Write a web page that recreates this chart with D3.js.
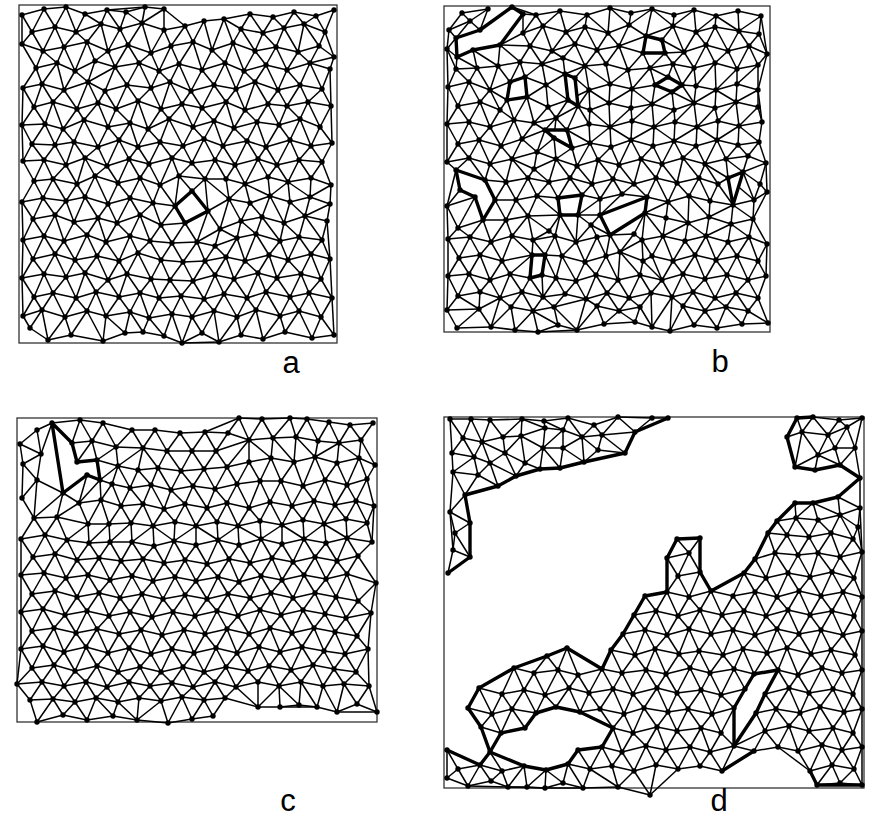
<!DOCTYPE html>
<html>
<head>
<meta charset="utf-8">
<script src="https://cdn.jsdelivr.net/npm/d3@7"></script>
<style>
  body { margin: 0; background: #fff; }
  svg { display: block; }
</style>
</head>
<body>
<div id="chart"></div>
<script>
// point positions, in pixels from the panel's top-left corner
var pointsA = [
  [3,10],[25,4],[47,2],[66,9],[88,5],[107,7],[126,2],[145,4],[231,9],[254,12],[275,7],[297,11],[315,5],
  [13,27],[36,22],[57,27],[82,19],[101,24],[123,18],[145,25],[166,21],[185,16],[205,14],[222,24],[244,28],[265,23],[285,19],[306,27],
  [3,39],[24,46],[45,42],[68,37],[89,46],[109,40],[132,48],[152,41],[174,37],[193,45],[214,38],[236,46],[257,42],[279,47],[300,41],[315,52],
  [17,63],[38,58],[56,66],[76,56],[96,62],[120,58],[140,66],[160,59],[183,65],[206,58],[225,66],[247,60],[268,65],[291,58],[311,64],
  [4,83],[23,79],[45,85],[69,77],[86,86],[108,80],[132,83],[151,77],[172,86],[195,80],[217,84],[236,77],[259,85],[281,80],[303,84],
  [15,102],[34,97],[58,104],[79,98],[97,104],[119,96],[142,104],[163,99],[183,103],[207,97],[226,105],[249,99],[268,101],[289,97],[312,101],
  [3,120],[26,119],[44,124],[65,115],[89,122],[111,118],[129,124],[150,114],[174,122],[195,116],[215,123],[238,117],[260,120],[281,114],[301,122],
  [13,139],[36,140],[55,137],[79,142],[100,135],[119,142],[141,137],[164,141],[185,134],[204,141],[228,136],[247,142],[271,135],[292,141],[313,138],
  [4,156],[25,155],[47,160],[66,153],[88,161],[110,154],[130,159],[153,153],[173,158],[196,155],[216,160],[239,154],[258,160],[280,155],[303,157],
  [15,176],[34,174],[58,179],[76,171],[99,178],[121,173],[141,180],[160,171],[186,174],[207,174],[226,179],[249,172],[269,177],[292,173],[312,180],
  [3,197],[24,193],[47,196],[66,192],[89,199],[111,193],[134,198],[210,194],[231,198],[251,191],[271,197],[291,192],[311,199],
  [14,214],[36,210],[55,217],[79,213],[98,218],[121,210],[142,220],[201,224],[222,216],[243,212],[265,218],[286,211],[308,216],
  [4,235],[25,231],[45,236],[68,230],[87,237],[111,231],[131,236],[153,238],[178,237],[196,241],[218,233],[237,229],[261,236],[280,232],[303,235],
  [14,254],[36,249],[56,255],[78,251],[100,256],[119,248],[142,255],[164,257],[186,256],[207,252],[226,256],[250,250],[269,255],[292,249],[311,254],
  [3,273],[25,269],[47,272],[66,268],[89,275],[108,269],[132,274],[151,275],[174,276],[196,270],[215,274],[239,268],[258,273],[282,269],[302,274],
  [15,292],[34,288],[57,293],[77,287],[100,292],[121,288],[140,293],[162,291],[185,294],[205,289],[228,293],[247,287],[271,292],[290,288],[313,293],
  [4,311],[23,305],[46,312],[68,306],[87,311],[111,307],[130,313],[153,309],[173,312],[195,306],[218,312],[237,305],[261,311],[280,306],[302,312],
  [11,323],[29,335],[52,330],[84,336],[106,328],[124,327],[145,331],[163,338],[183,328],[200,337],[222,330],[244,334],[266,327],[293,333],[315,330]
];
var holesA = [
  [[156,201],[173,186],[189,206],[166,218]]
];

var pointsB = [
  [18,7],[44,3],[92,9],[116,5],[143,9],[166,2],[187,7],[208,3],[230,9],[250,4],[272,10],[294,5],[317,10],
  [5,24],[26,15],[51,25],[79,27],[99,20],[122,26],[141,21],[164,27],[185,19],[229,20],[252,26],[271,21],[295,25],[315,28],
  [3,43],[86,40],[108,45],[131,38],[153,44],[175,40],[240,46],[262,39],[284,45],[305,40],[323,48],
  [12,63],[33,62],[54,60],[76,56],[98,58],[119,52],[141,60],[162,58],[184,64],[206,62],[229,58],[250,62],[271,57],[293,63],[314,59],
  [4,81],[25,76],[46,84],[102,79],[145,84],[166,78],[188,83],[252,80],[272,84],[293,78],[314,84],
  [14,100],[36,96],[56,104],[104,101],[146,104],[165,97],[187,102],[208,98],[230,104],[250,97],[271,102],[292,96],[314,101],
  [3,118],[25,116],[46,121],[70,114],[90,117],[112,112],[145,118],[166,121],[188,115],[210,121],[231,116],[253,121],[274,115],[295,120],[318,116],
  [14,138],[35,134],[57,140],[78,133],[93,146],[146,137],[167,141],[187,134],[209,140],[230,135],[252,140],[273,134],[294,139],[315,136],
  [3,156],[25,152],[46,158],[68,153],[90,163],[112,153],[133,160],[154,154],[175,159],[197,153],[218,158],[239,152],[261,158],[282,153],[304,150],[322,157],
  [62,176],[84,172],[105,176],[126,172],[148,178],[169,173],[190,178],[212,172],[233,177],[255,172],[274,178],[316,178],
  [3,200],[72,194],[93,190],[156,193],[178,188],[224,196],[245,190],[266,195],[310,194],[323,186],
  [14,222],[62,214],[84,210],[105,225],[147,219],[190,228],[222,212],[244,217],[265,211],[287,218],[309,213],
  [4,233],[26,231],[47,236],[68,230],[89,234],[111,230],[132,236],[153,231],[176,246],[198,234],[219,230],[241,235],[262,230],[284,236],[305,231],[323,238],
  [15,252],[36,249],[58,255],[118,250],[141,256],[162,250],[199,255],[208,250],[229,255],[251,249],[272,254],[293,250],[314,255],
  [4,270],[25,268],[46,274],[66,268],[112,272],[132,275],[152,269],[174,274],[196,269],[218,274],[239,268],[261,273],[283,269],[304,274],[322,270],
  [14,290],[36,286],[56,292],[78,286],[99,291],[121,288],[142,293],[163,287],[185,292],[207,287],[228,291],[249,286],[271,292],[292,287],[314,292],
  [3,304],[35,303],[67,301],[89,305],[110,301],[153,300],[175,305],[196,301],[239,300],[261,305],[282,301],[304,305],
  [13,322],[47,321],[71,324],[94,326],[114,319],[133,324],[160,318],[191,316],[208,321],[226,325],[250,319],[273,322],[298,318],[324,317]
];
var holesB = [
  [[12,32],[36,24],[68,1],[79,8],[56,39],[29,44],[13,51]],
  [[202,30],[218,34],[221,47],[199,47]],
  [[211,79],[224,71],[238,79],[228,86]],
  [[81,71],[66,76],[63,94],[83,91]],
  [[121,68],[131,72],[134,100],[124,94]],
  [[101,124],[123,124],[128,142],[110,132]],
  [[12,164],[41,174],[51,194],[39,214],[31,191],[16,184]],
  [[114,192],[138,189],[134,209],[116,209]],
  [[156,209],[203,191],[201,207],[166,229]],
  [[88,249],[101,249],[98,269],[86,272]],
  [[284,172],[299,166],[289,199]]
];

var pointsC = [
  [63,2],[86,5],[115,12],[138,12],[163,15],[188,14],[211,15],[222,0],[245,1],[273,0],[290,1],[312,4],[333,7],[356,5],
  [3,26],[20,12],[75,23],[99,29],[126,30],[150,33],[175,33],[199,33],[232,22],[256,20],[279,19],[301,23],[322,25],[344,22],
  [6,46],[24,36],[101,48],[121,52],[141,50],[164,53],[187,51],[210,49],[232,44],[254,40],[277,44],[298,39],[320,45],[342,40],[358,47],
  [20,62],[95,66],[113,70],[134,67],[154,72],[176,68],[198,71],[220,66],[243,63],[264,63],[286,68],[308,62],[330,67],[350,61],
  [5,80],[62,85],[84,82],[104,88],[126,86],[147,91],[168,86],[190,90],[210,85],[232,90],[253,84],[275,88],[297,83],[318,87],[339,83],[357,88],
  [17,100],[40,99],[71,106],[92,106],[114,105],[136,108],[158,104],[179,108],[200,104],[221,108],[243,103],[265,107],[286,102],[307,106],[329,101],[350,105],
  [4,121],[28,117],[50,122],[72,125],[93,124],[115,124],[137,128],[157,123],[179,127],[201,122],[222,127],[244,121],[265,126],[287,121],[309,125],[330,120],[355,124],
  [16,139],[38,136],[60,142],[82,140],[104,143],[126,141],[147,145],[168,142],[190,146],[212,141],[233,145],[255,140],[276,144],[298,139],[320,143],[341,138],
  [4,157],[27,155],[49,160],[71,157],[93,162],[115,158],[136,163],[158,159],[179,163],[201,159],[222,164],[244,158],[265,162],[287,157],[309,161],[330,156],[359,165],
  [15,176],[38,173],[60,179],[82,175],[103,180],[125,176],[146,181],[168,177],[190,181],[211,176],[233,180],[254,175],[276,180],[298,175],[319,179],[341,183],
  [4,194],[26,191],[48,197],[70,193],[92,198],[113,194],[135,199],[156,194],[178,198],[200,193],[221,198],[243,192],[264,197],[286,192],[308,196],[329,200],[354,195],
  [15,213],[37,210],[59,215],[80,211],[102,216],[124,212],[145,217],[167,212],[188,216],[210,211],[232,216],[253,210],[275,215],[297,210],[318,214],[340,218],
  [4,231],[26,228],[47,234],[69,229],[91,235],[112,230],[134,236],[155,231],[177,235],[199,230],[220,235],[242,229],[263,234],[285,229],[307,233],[328,236],[351,231],
  [15,250],[37,247],[58,253],[80,248],[101,254],[123,249],[144,254],[166,249],[187,254],[209,249],[231,253],[252,248],[274,252],[296,247],[317,251],[339,254],
  [0,266],[25,264],[47,268],[69,264],[90,269],[112,264],[133,268],[155,265],[176,269],[198,264],[219,269],[241,264],[262,268],[284,264],[306,268],[327,266],[352,268],
  [13,282],[36,281],[58,284],[79,280],[101,284],[122,280],[144,283],[165,279],[187,282],[208,280],[241,289],[263,289],[282,287],[300,289],[320,294],[340,286],[360,294],
  [20,304],[46,297],[70,302],[96,298],[120,302],[151,305],[175,301],[196,298]
];
var holesC = [
  [[35,5],[55,25],[60,44],[80,42],[83,62],[70,57],[46,75]]
];

var pointsD = [
  [6,2],[27,2],[46,3],[78,2],[100,4],[124,1],[150,8],[174,0],[208,1],[224,1],[246,2],[268,1],[290,3],[312,1],[353,1],[369,0],[395,3],[418,1],
  [19,21],[38,25],[59,20],[77,19],[101,11],[119,13],[138,20],[158,18],[191,15],[231,20],[255,21],[278,22],[300,20],[322,19],[343,20],[358,15],[384,18],[403,10],
  [8,36],[30,40],[46,46],[61,36],[81,46],[99,31],[119,31],[154,33],[181,36],[216,40],[238,42],[262,38],[283,41],[305,40],[327,39],[374,38],[391,31],[411,31],
  [9,55],[34,58],[54,69],[72,59],[96,52],[116,51],[140,45],[160,60],[182,58],[204,60],[226,62],[247,58],[270,61],[291,59],[314,62],[351,50],[371,53],[396,48],[416,61],
  [21,78],[43,82],[66,77],[88,82],[110,79],[132,83],[154,78],[176,82],[198,79],[220,83],[242,78],[264,82],[286,79],[308,83],[330,78],[351,86],[369,86],[394,80],[416,91],
  [6,95],[26,106],[47,100],[69,104],[91,98],[113,103],[135,99],[157,104],[179,98],[201,103],[223,99],[245,104],[267,98],[289,103],[311,99],[333,104],[352,101],[374,103],[396,98],[414,110],
  [11,116],[36,120],[58,116],[80,121],[102,117],[124,122],[146,116],[168,121],[190,117],[212,122],[233,122],[256,121],[278,117],[300,122],[324,116],[343,118],[365,120],[387,116],[409,122],
  [9,133],[26,140],[47,137],[69,142],[91,136],[113,141],[135,137],[157,142],[179,136],[201,141],[223,141],[245,136],[267,141],[289,137],[311,142],[331,136],[354,138],[374,136],[396,140],[418,135],
  [4,156],[36,158],[58,162],[80,156],[102,161],[124,157],[146,162],[168,156],[190,161],[212,157],[234,159],[256,155],[278,160],[300,156],[322,161],[344,156],[366,160],[388,155],[410,161],
  [3,176],[25,179],[47,175],[69,180],[91,174],[113,179],[135,175],[157,180],[179,174],[201,179],[223,175],[245,180],[267,174],[289,179],[311,175],[333,180],[355,174],[377,179],[399,175],[418,180],
  [14,198],[36,194],[58,199],[80,193],[102,198],[124,194],[146,199],[168,193],[190,198],[212,194],[234,199],[256,193],[278,198],[300,194],[322,199],[344,193],[366,198],[388,194],[410,199],
  [3,216],[25,213],[47,218],[69,212],[91,217],[113,213],[135,218],[157,212],[179,217],[201,213],[223,218],[245,212],[267,217],[289,213],[311,218],[333,212],[355,217],[377,213],[399,218],[418,214],
  [14,237],[35,232],[59,238],[79,234],[103,239],[123,231],[147,236],[167,233],[191,238],[211,232],[235,237],[255,234],[279,238],[299,232],[323,236],[343,231],[367,237],[387,233],[411,238],
  [3,255],[26,252],[46,257],[70,251],[90,256],[114,253],[134,258],[158,252],[178,256],[202,253],[222,257],[246,251],[266,256],[290,252],[310,257],[334,253],[354,258],[378,251],[398,256],[418,253],
  [15,276],[35,271],[58,277],[80,273],[101,278],[125,271],[145,276],[169,272],[189,277],[213,271],[233,276],[257,273],[277,278],[301,272],[321,277],[345,271],[365,276],[389,272],[409,277],
  [4,294],[24,291],[48,297],[68,292],[92,296],[112,290],[136,295],[156,292],[180,297],[200,291],[224,295],[244,292],[268,297],[290,291],[312,296],[332,292],[356,296],[376,290],[400,295],[418,292],
  [14,314],[37,310],[57,316],[81,311],[101,315],[125,309],[145,314],[169,311],[189,316],[213,310],[233,314],[257,311],[277,316],[301,310],[321,314],[345,309],[365,314],[389,311],[409,316],
  [3,333],[26,329],[46,335],[70,330],[90,334],[114,328],[134,333],[158,330],[178,335],[202,329],[222,333],[246,330],[266,335],[290,329],[310,334],[334,330],[354,334],[378,328],[398,333],[418,330],
  [14,352],[36,348],[58,354],[80,349],[102,353],[124,347],[146,352],[168,349],[190,354],[212,348],[234,352],[256,349],[278,354],[300,348],[322,352],[344,349],[366,354],[388,348],[410,352],
  [3,361],[24,369],[47,364],[64,370],[83,370],[101,371],[119,366],[139,371],[174,370],[206,378],[373,368],[396,366],[418,368]
];
// empty (point-free) areas of panel d
var gapsD = [
  [[228,0],[336,0],[336,25],[345,56],[371,60],[396,55],[422,69],[422,76],[394,74],[369,80],[346,80],
   [318,111],[296,146],[280,166],[268,165],[264,124],[246,115],[218,117],[217,146],[225,161],[202,176],
   [158,246],[153,253],[134,245],[123,226],[102,233],[79,245],[60,248],[21,278],[22,300],[46,322],[78,321],
   [103,312],[105,297],[122,297],[160,311],[170,317],[131,323],[101,349],[81,341],[41,328],[21,345],[8,333],
   [-2,333],[-2,160],[8,162],[30,146],[33,108],[28,84],[40,72],[56,76],[92,53],[112,58],[140,49],[147,28],
   [152,40],[182,43],[199,28],[196,14],[210,6],[228,5]],
  [[228,372],[228,357],[242,368],[288,354],[296,336],[311,347],[324,337],[366,354],[370,372]],
  [[318,249],[331,257],[312,292],[303,314],[293,310],[294,288],[307,262]]
];

var panelLabels = ["a", "b", "c", "d"];

var panels = [
  { label: panelLabels[0], frame: { x: 19, y: 5, w: 318, h: 338 }, points: pointsA, holes: holesA, gaps: [], labelAt: [291, 373], maxEdge: 40 },
  { label: panelLabels[1], frame: { x: 444, y: 6, w: 326, h: 326 }, points: pointsB, holes: holesB, gaps: [], labelAt: [720, 372], maxEdge: 40 },
  { label: panelLabels[2], frame: { x: 17, y: 418, w: 360, h: 304 }, points: pointsC, holes: holesC, gaps: [], labelAt: [288, 811], maxEdge: 40 },
  { label: panelLabels[3], frame: { x: 444, y: 417, w: 420, h: 371 }, points: pointsD, holes: [], gaps: gapsD, labelAt: [719, 811], maxEdge: 46 }
];

var width = 881;
var height = 820;

var svg = d3
  .select("#chart")
  .append("svg")
  .attr("width", width)
  .attr("height", height)
  .style("background", "#fff");

function segDist(p, a, b) {
  var dx = b[0] - a[0], dy = b[1] - a[1];
  var t = ((p[0] - a[0]) * dx + (p[1] - a[1]) * dy) / (dx * dx + dy * dy);
  t = Math.max(0, Math.min(1, t));
  var ex = a[0] + t * dx - p[0], ey = a[1] + t * dy - p[1];
  return Math.sqrt(ex * ex + ey * ey);
}

function nearPolygon(p, poly, pad) {
  if (d3.polygonContains(poly, p)) return true;
  for (var i = 0; i < poly.length; i++) {
    if (segDist(p, poly[i], poly[(i + 1) % poly.length]) < pad) return true;
  }
  return false;
}

function drawPanel(cfg) {
  var f = cfg.frame;
  var x = d3.scaleLinear().domain([0, f.w]).range([f.x, f.x + f.w]);
  var y = d3.scaleLinear().domain([0, f.h]).range([f.y, f.y + f.h]);

  var g = svg.append("g").attr("class", "panel-" + cfg.label);

  g.append("rect")
    .attr("x", x(0))
    .attr("y", y(0))
    .attr("width", x(f.w) - x(0))
    .attr("height", y(f.h) - y(0))
    .attr("fill", "none")
    .attr("stroke", "#333")
    .attr("stroke-width", 1.3);

  var holeVerts = [];
  cfg.holes.forEach(function (h) {
    h.forEach(function (v) { holeVerts.push(v); });
  });

  var pts = cfg.points.filter(function (p) {
    var inHole = cfg.holes.some(function (h) { return nearPolygon(p, h, 7); });
    var inGap = cfg.gaps.some(function (gp) { return d3.polygonContains(gp, p); });
    return !inHole && !inGap;
  }).concat(holeVerts);

  var del = d3.Delaunay.from(pts);
  var tri = del.triangles;
  var edges = new Map();
  var used = new Set();

  for (var k = 0; k < tri.length; k += 3) {
    var ids = [tri[k], tri[k + 1], tri[k + 2]];
    var P = ids.map(function (i) { return pts[i]; });
    var c = [(P[0][0] + P[1][0] + P[2][0]) / 3, (P[0][1] + P[1][1] + P[2][1]) / 3];
    var longest = 0;
    for (var e = 0; e < 3; e++) {
      var q = P[e], r = P[(e + 1) % 3];
      longest = Math.max(longest, Math.hypot(q[0] - r[0], q[1] - r[1]));
    }
    var inEmpty =
      cfg.holes.some(function (h) { return d3.polygonContains(h, c); }) ||
      cfg.gaps.some(function (gp) { return d3.polygonContains(gp, c); });
    var tooLong = cfg.maxEdge && longest > cfg.maxEdge;
    var removed = inEmpty || tooLong;

    for (var e2 = 0; e2 < 3; e2++) {
      var a = ids[e2], b = ids[(e2 + 1) % 3];
      var key = Math.min(a, b) + "-" + Math.max(a, b);
      var rec = edges.get(key) || { a: a, b: b, kept: 0, cut: 0 };
      if (!removed) rec.kept++;
      else if (inEmpty) rec.cut++;
      edges.set(key, rec);
    }
    if (!removed) ids.forEach(function (i) { used.add(i); });
  }

  var thin = [], thick = [];
  edges.forEach(function (rec) {
    if (rec.kept === 0) return;
    if (cfg.gaps.length && rec.kept === 1 && rec.cut > 0) thick.push(rec);
    else thin.push(rec);
  });

  g.append("g")
    .selectAll("line")
    .data(thin)
    .enter()
    .append("line")
    .attr("x1", function (d) { return x(pts[d.a][0]); })
    .attr("y1", function (d) { return y(pts[d.a][1]); })
    .attr("x2", function (d) { return x(pts[d.b][0]); })
    .attr("y2", function (d) { return y(pts[d.b][1]); })
    .attr("stroke", "#000")
    .attr("stroke-width", 1.5);

  g.append("g")
    .selectAll("line")
    .data(thick)
    .enter()
    .append("line")
    .attr("x1", function (d) { return x(pts[d.a][0]); })
    .attr("y1", function (d) { return y(pts[d.a][1]); })
    .attr("x2", function (d) { return x(pts[d.b][0]); })
    .attr("y2", function (d) { return y(pts[d.b][1]); })
    .attr("stroke", "#000")
    .attr("stroke-width", 3.4)
    .attr("stroke-linecap", "round");

  var line = d3.line()
    .x(function (d) { return x(d[0]); })
    .y(function (d) { return y(d[1]); })
    .curve(d3.curveLinearClosed);

  g.append("g")
    .selectAll("path")
    .data(cfg.holes)
    .enter()
    .append("path")
    .attr("d", line)
    .attr("fill", "#fff")
    .attr("stroke", "#000")
    .attr("stroke-width", 3.4)
    .attr("stroke-linejoin", "round");

  var dots = pts.filter(function (p, i) { return used.has(i); });

  g.append("g")
    .selectAll("circle")
    .data(dots)
    .enter()
    .append("circle")
    .attr("cx", function (d) { return x(d[0]); })
    .attr("cy", function (d) { return y(d[1]); })
    .attr("r", 2.7)
    .attr("fill", "#000");

  svg.append("text")
    .attr("x", cfg.labelAt[0])
    .attr("y", cfg.labelAt[1])
    .attr("text-anchor", "middle")
    .style("font-family", "'Liberation Sans', Arial, sans-serif")
    .style("font-size", "31px")
    .attr("fill", "#000")
    .text(cfg.label);
}

panels.forEach(drawPanel);
</script>
</body>
</html>
